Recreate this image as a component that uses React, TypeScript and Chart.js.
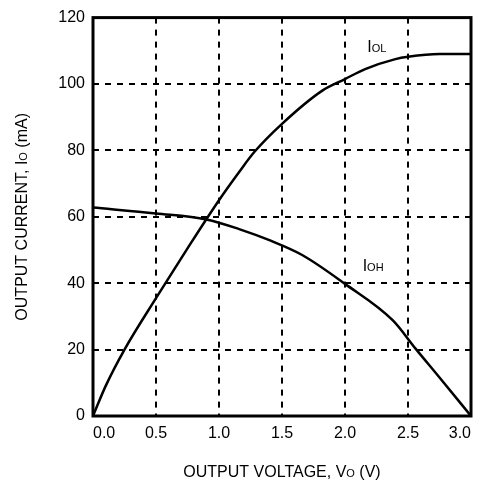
import React, { useEffect, useRef } from 'react';
import { Chart, registerables } from 'chart.js';
Chart.register(...registerables);

// Output voltage (V) and currents (mA)
const vOL = [0, 0.1, 0.25, 0.5, 0.75, 1.0, 1.16, 1.28, 1.5, 1.82, 2.0, 2.16, 2.4, 2.5, 2.75, 3.0];
const iOL = [0, 9, 20, 35.5, 50.5, 65, 73.5, 79.5, 88, 98, 101.5, 104.5, 107.5, 108.2, 109, 109];

const vOH = [0, 0.5, 0.9, 1.16, 1.41, 1.66, 2.0, 2.38, 2.56, 2.75, 3.0];
const iOH = [62.8, 61, 59.2, 56.3, 52.8, 48.5, 39.8, 28.8, 20.3, 11.6, 0];

const xTicks = [0, 0.5, 1.0, 1.5, 2.0, 2.5, 3.0];
const yTicks = [0, 20, 40, 60, 80, 100, 120];

const seriesLabels = [
  { main: 'I', sub: 'OL', x: 2.177, y: 109.6 },
  { main: 'I', sub: 'OH', x: 2.14, y: 43.8 },
];

const FONT = '"Liberation Sans", Arial, sans-serif';

type Part = { t: string; s: number };

function drawParts(ctx: CanvasRenderingContext2D, parts: Part[], x: number, y: number, align: 'left' | 'center') {
  ctx.save();
  ctx.fillStyle = '#000';
  ctx.textBaseline = 'alphabetic';
  ctx.textAlign = 'left';
  let total = 0;
  const widths = parts.map((p) => {
    ctx.font = `${p.s}px ${FONT}`;
    const w = ctx.measureText(p.t).width;
    total += w;
    return w;
  });
  let cx = align === 'center' ? x - total / 2 : x;
  parts.forEach((p, i) => {
    ctx.font = `${p.s}px ${FONT}`;
    ctx.fillText(p.t, cx, y);
    cx += widths[i];
  });
  ctx.restore();
}

const decorPlugin = {
  id: 'decor',
  afterDraw(chart: any) {
    const ctx: CanvasRenderingContext2D = chart.ctx;
    const { left, right, top, bottom } = chart.chartArea;
    // frame
    ctx.save();
    ctx.strokeStyle = '#000';
    ctx.lineWidth = 3;
    ctx.setLineDash([]);
    ctx.strokeRect(left, top, right - left, bottom - top);
    ctx.restore();
    // axis titles
    drawParts(
      ctx,
      [
        { t: 'OUTPUT VOLTAGE, V', s: 16 },
        { t: 'O', s: 11 },
        { t: ' (V)', s: 16 },
      ],
      (left + right) / 2,
      bottom + 61,
      'center'
    );
    ctx.save();
    ctx.translate(left - 66, (top + bottom) / 2);
    ctx.rotate(-Math.PI / 2);
    drawParts(
      ctx,
      [
        { t: 'OUTPUT CURRENT, I', s: 16 },
        { t: 'O', s: 11 },
        { t: ' (mA)', s: 16 },
      ],
      0,
      0,
      'center'
    );
    ctx.restore();
    // series labels
    const xs = chart.scales.x;
    const ys = chart.scales.y;
    seriesLabels.forEach((l) => {
      drawParts(
        ctx,
        [
          { t: l.main, s: 16 },
          { t: l.sub, s: 11 },
        ],
        xs.getPixelForValue(l.x),
        ys.getPixelForValue(l.y),
        'left'
      );
    });
  },
};

export default function App() {
  const ref = useRef<HTMLCanvasElement>(null);
  useEffect(() => {
    if (!ref.current) return;
    const chart = new Chart(ref.current, {
      type: 'line',
      data: {
        datasets: [
          {
            label: 'IOL',
            data: vOL.map((v, i) => ({ x: v, y: iOL[i] })),
            borderColor: '#000',
            borderWidth: 2.5,
            pointRadius: 0,
            cubicInterpolationMode: 'monotone',
            fill: false,
          },
          {
            label: 'IOH',
            data: vOH.map((v, i) => ({ x: v, y: iOH[i] })),
            borderColor: '#000',
            borderWidth: 2.5,
            pointRadius: 0,
            cubicInterpolationMode: 'monotone',
            fill: false,
          },
        ],
      },
      options: {
        animation: false,
        responsive: false,
        layout: { padding: { top: 16, right: 7, left: 0, bottom: 0 } },
        plugins: { legend: { display: false }, tooltip: { enabled: false } },
        scales: {
          x: {
            type: 'linear',
            min: 0,
            max: 3,
            afterBuildTicks: (s: any) => {
              s.ticks = xTicks.map((v) => ({ value: v }));
            },
            afterFit: (s: any) => {
              s.height = 67;
            },
            ticks: {
              align: 'inner',
              maxRotation: 0,
              color: '#000',
              padding: 8,
              font: { family: FONT, size: 16 },
              callback: (v: any) => Number(v).toFixed(1),
            },
            grid: { color: '#000', lineWidth: 2, drawTicks: false },
            border: { display: false, dash: [6, 6] },
          },
          y: {
            type: 'linear',
            min: 0,
            max: 120,
            afterBuildTicks: (s: any) => {
              s.ticks = yTicks.map((v) => ({ value: v }));
            },
            afterFit: (s: any) => {
              s.width = 93;
            },
            ticks: {
              color: '#000',
              padding: 8,
              font: { family: FONT, size: 16 },
            },
            grid: { color: '#000', lineWidth: 2, drawTicks: false },
            border: { display: false, dash: [6, 6] },
          },
        },
      },
      plugins: [decorPlugin],
    } as any);
    return () => chart.destroy();
  }, []);
  return (
    <canvas
      ref={ref}
      width={479}
      height={483}
      style={{ position: 'fixed', left: 0, top: 0, display: 'block', background: '#fff' }}
    />
  );
}
